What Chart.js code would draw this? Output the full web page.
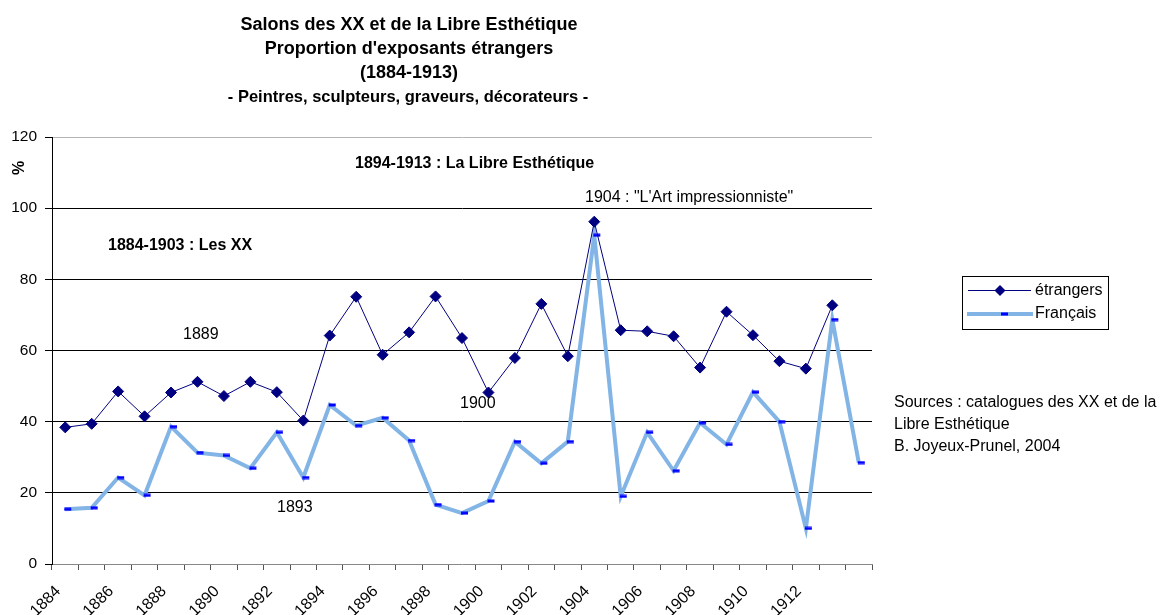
<!DOCTYPE html>
<html>
<head>
<meta charset="utf-8">
<script src="https://cdn.jsdelivr.net/npm/chart.js@4.4.1/dist/chart.umd.min.js"></script>
<style>
  html, body { margin: 0; padding: 0; background: #ffffff; overflow: hidden; }
  #wrap { width: 1162px; height: 615px; position: relative; }
  canvas { display: block; }
</style>
</head>
<body>
<div id="wrap"><canvas id="c" width="1162" height="615"></canvas></div>
<script>
// ---- Data ----
const years = ['1884','1885','1886','1887','1888','1889','1890','1891','1892','1893',
               '1894','1895','1896','1897','1898','1899','1900','1901','1902','1903',
               '1904','1905','1906','1907','1908','1909','1910','1911','1912','1913',''];
const shownTickLabels = ['1884','1886','1888','1890','1892','1894','1896','1898','1900','1902','1904','1906','1908','1910','1912'];
const etrangers = [38.4, 39.4, 48.5, 41.5, 48.2, 51.2, 47.2, 51.2, 48.3, 40.3,
                   64.2, 75.1, 58.8, 65.1, 75.2, 63.5, 48.2, 57.9, 73.1, 58.4,
                   96.2, 65.7, 65.4, 64.0, 55.2, 70.9, 64.3, 57.0, 54.9, 72.7, null];
const francais  = [15.4, 15.8, 24.3, 19.3, 38.6, 31.3, 30.5, 26.9, 37.0, 24.3,
                   44.7, 38.9, 41.1, 34.7, 16.7, 14.3, 17.7, 34.4, 28.3, 34.4,
                   92.4, 19.0, 37.0, 26.2, 39.7, 33.6, 48.3, 40.0, 10.0, 68.7, 28.5];
const yTicks = [0, 20, 40, 60, 80, 100, 120];
const seriesNames = ['étrangers', 'Français'];
const titleLines = ['Salons des XX et de la Libre Esthétique', "Proportion d'exposants étrangers", '(1884-1913)'];
const subtitleLine = '- Peintres, sculpteurs, graveurs, décorateurs -';
const sourcesLines = ['Sources : catalogues des XX et de la', 'Libre Esthétique', 'B. Joyeux-Prunel, 2004'];

const FONT = '"Liberation Sans", Arial, Helvetica, sans-serif';
const NAVY = '#000080';
const PALE = '#82b4e6';
const BLUE = '#0000ff';

// Dash marker used for "Français" (slightly offset to the right, as in the original)
function makeDash() {
  const c = document.createElement('canvas');
  c.width = 14; c.height = 4;
  const g = c.getContext('2d');
  g.fillStyle = BLUE;
  g.fillRect(6, 0.5, 7, 3);
  return c;
}
const dash = makeDash();

const overlay = {
  id: 'overlay',
  afterDraw(chart) {
    const ctx = chart.ctx;
    ctx.save();
    ctx.fillStyle = '#000';
    ctx.textBaseline = 'middle';
    // Title
    ctx.textAlign = 'center';
    ctx.font = 'bold 18px ' + FONT;
    titleLines.forEach((t, i) => ctx.fillText(t, 409, 25.5 + i * 23.7));
    ctx.font = 'bold 16.5px ' + FONT;
    ctx.fillText(subtitleLine, 408, 97);

    // Axis title "%"
    ctx.save();
    ctx.translate(20, 168);
    ctx.rotate(-Math.PI / 2);
    ctx.font = 'bold 16px ' + FONT;
    ctx.fillText('%', 0, 0);
    ctx.restore();

    // Annotations
    ctx.textAlign = 'left';
    ctx.font = 'bold 16px ' + FONT;
    ctx.fillText('1894-1913 : La Libre Esthétique', 355, 164);
    ctx.fillText('1884-1903 : Les XX', 108, 246);
    ctx.font = '16px ' + FONT;
    ctx.fillText('1889', 183, 335);
    ctx.fillText('1893', 277, 508);
    ctx.fillText('1900', 460, 403.5);
    ctx.fillText('1904 : "L\'Art impressionniste"', 585, 197.5);

    // Sources
    sourcesLines.forEach((t, i) => ctx.fillText(t, 894, 403 + i * 22));

    // Legend
    ctx.strokeStyle = '#000';
    ctx.lineWidth = 1;
    ctx.strokeRect(962.5, 276.5, 146, 53);
    // étrangers
    ctx.strokeStyle = NAVY;
    ctx.lineWidth = 1;
    ctx.beginPath(); ctx.moveTo(968, 290.5); ctx.lineTo(1031, 290.5); ctx.stroke();
    ctx.fillStyle = NAVY;
    ctx.beginPath();
    ctx.moveTo(1000, 285); ctx.lineTo(1005.5, 290.5); ctx.lineTo(1000, 296); ctx.lineTo(994.5, 290.5);
    ctx.closePath(); ctx.fill();
    // Français
    ctx.strokeStyle = PALE;
    ctx.lineWidth = 4;
    ctx.beginPath(); ctx.moveTo(967, 314); ctx.lineTo(1033, 314); ctx.stroke();
    ctx.drawImage(dash, 1002 - 7, 314 - 2);
    ctx.fillStyle = '#000';
    ctx.font = '16px ' + FONT;
    ctx.fillText(seriesNames[0], 1035, 290.5);
    ctx.fillText(seriesNames[1], 1035, 314);
    ctx.restore();
  }
};

new Chart(document.getElementById('c'), {
  type: 'line',
  data: {
    labels: years,
    datasets: [
      {
        label: seriesNames[0],
        data: etrangers,
        borderColor: NAVY,
        backgroundColor: NAVY,
        borderWidth: 1,
        pointStyle: 'rectRot',
        pointRadius: 5.5,
        pointBorderWidth: 1,
        pointBackgroundColor: NAVY,
        pointBorderColor: NAVY,
        tension: 0,
        spanGaps: false
      },
      {
        label: seriesNames[1],
        data: francais,
        borderColor: PALE,
        backgroundColor: PALE,
        borderWidth: 4,
        pointStyle: dash,
        pointRadius: 4,
        tension: 0
      }
    ]
  },
  options: {
    responsive: false,
    animation: false,
    devicePixelRatio: 1,
    layout: { padding: { left: 0, right: 290, top: 137, bottom: 0 } },
    plugins: {
      legend: { display: false },
      title: { display: false },
      tooltip: { enabled: false }
    },
    scales: {
      x: {
        type: 'category',
        offset: true,
        grid: {
          offset: true,
          drawOnChartArea: false,
          drawTicks: true,
          tickLength: 6,
          color: '#555555'
        },
        border: { color: '#888888', width: 1 },
        ticks: {
          autoSkip: false,
          maxRotation: 45,
          minRotation: 45,
          color: '#000',
          padding: 12,
          labelOffset: -7,
          font: { family: FONT, size: 16 },
          callback: function (value, index) {
            const l = years[index];
            return shownTickLabels.includes(l) ? l : '';
          }
        },
        afterFit: function (s) { s.height = 51; }
      },
      y: {
        min: 0,
        max: 120,
        afterBuildTicks: function (s) { s.ticks = yTicks.map(v => ({ value: v })); },
        grid: {
          color: function (c) {
            if (c.tick && c.tick.value === 120) return '#b4b4b4';
            if (c.tick && c.tick.value === 0) return 'rgba(0,0,0,0)';
            return '#000000';
          },
          tickColor: '#000',
          tickLength: 7,
          lineWidth: 1
        },
        border: { color: '#000', width: 1 },
        ticks: {
          color: '#000',
          padding: 8,
          font: { family: FONT, size: 15.5 }
        },
        afterFit: function (s) { s.width = 52; }
      }
    }
  },
  plugins: [overlay]
});
</script>
</body>
</html>
